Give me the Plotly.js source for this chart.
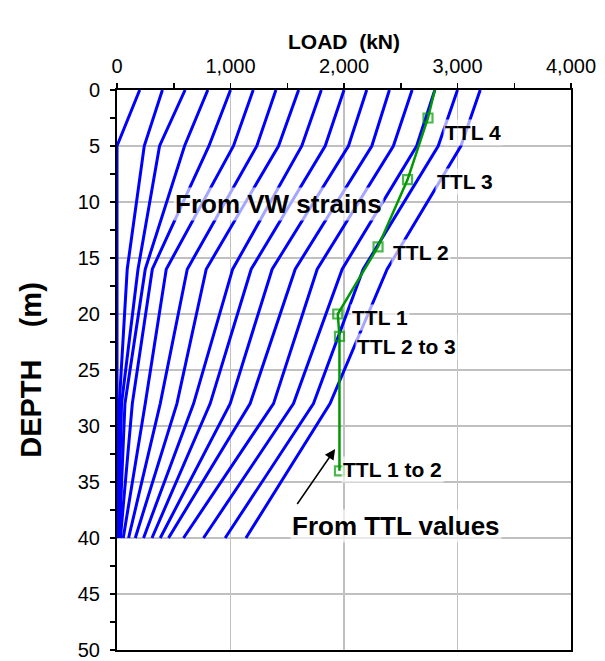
<!DOCTYPE html>
<html>
<head>
<meta charset="utf-8">
<script src="https://cdn.plot.ly/plotly-3.0.1.min.js"></script>
<style>html,body{margin:0;padding:0;background:#fff;}#chart{width:605px;height:661px;}</style>
</head>
<body>
<div id="chart"></div>
<script>
// Depth nodes (m) of the VW-strain load distributions
const vwDepths = [0, 5, 16, 28, 40];
// Load (kN) at each depth node, one array per applied head load
const vw200  = [200, 0, 0, 0, 0];
const vw400  = [400, 240, 90, 20, 5];
const vw600  = [600, 375, 185, 40, 10];
const vw800  = [800, 595, 249, 70, 20];
const vw1000 = [1000, 810, 311, 135, 30];
const vw1200 = [1200, 1026, 434, 249, 55];
const vw1400 = [1400, 1232, 619, 381, 102];
const vw1600 = [1600, 1423, 786, 528, 161];
const vw1800 = [1800, 1628, 1019, 675, 234];
const vw2000 = [2000, 1834, 1182, 821, 308];
const vw2200 = [2200, 2039, 1367, 997, 381];
const vw2400 = [2400, 2245, 1570, 1173, 454];
const vw2600 = [2600, 2435, 1764, 1379, 586];
const vw2800 = [2800, 2640, 1984, 1555, 762];
const vw3000 = [3000, 2830, 2169, 1731, 953];
const vw3200 = [3200, 3030, 2380, 1877, 1136];
const vwSeries = [vw200, vw400, vw600, vw800, vw1000, vw1200, vw1400, vw1600,
                  vw1800, vw2000, vw2200, vw2400, vw2600, vw2800, vw3000, vw3200];

// Telltale-derived distribution
const ttlDepths = [0, 2.5, 8, 14, 20, 22, 34];
const ttlLoads  = [2800, 2740, 2560, 2300, 1945, 1960, 1960];
const ttlNames  = ['', 'TTL 4', 'TTL 3', 'TTL 2', 'TTL 1', 'TTL 2 to 3', 'TTL 1 to 2'];

const BLUE = '#0000FF';
const GREEN = '#009900';

const traces = vwSeries.map(s => ({
  type: 'scatter', mode: 'lines', x: s, y: vwDepths,
  line: {color: BLUE, width: 3}, hoverinfo: 'skip'
}));
traces.push({
  type: 'scatter', mode: 'lines+markers', x: ttlLoads, y: ttlDepths,
  line: {color: GREEN, width: 2.5},
  marker: {symbol: 'square-open', size: ttlNames.map(n => n ? 9 : 0), color: GREEN, line: {color: GREEN, width: 2.2}},
  hoverinfo: 'skip'
});

const lblBg = 'rgba(255,255,255,0.65)';
function ttlLabel(text, x, y) {
  return {text: '<b>' + text + '</b>', x: x, y: y, xref: 'x', yref: 'y', showarrow: false,
          font: {size: 21, color: '#000'}, bgcolor: lblBg, borderpad: 1};
}
const annotations = [
  ttlLabel(ttlNames[1], 3137, 3.8),
  ttlLabel(ttlNames[2], 3067, 8.2),
  ttlLabel(ttlNames[3], 2679, 14.5),
  ttlLabel(ttlNames[4], 2318, 20.3),
  ttlLabel(ttlNames[5], 2547, 22.9),
  ttlLabel(ttlNames[6], 2430, 33.9),
  {text: '<b>From VW strains</b>', x: 1420, y: 10.2, xref: 'x', yref: 'y', showarrow: false,
   font: {size: 26, color: '#000'}, bgcolor: lblBg, borderpad: 1},
  {text: '<b>From TTL values</b>', x: 2460, y: 38.9, xref: 'x', yref: 'y', showarrow: false,
   font: {size: 26, color: '#000'}, bgcolor: lblBg, borderpad: 1},
  {text: '', x: 1922, y: 32.05, ax: 1579, ay: 37.1, xref: 'x', yref: 'y', axref: 'x', ayref: 'y',
   showarrow: true, arrowhead: 2, arrowsize: 1.4, arrowwidth: 1.5, arrowcolor: '#000'}
];

const layout = {
  width: 605, height: 661,
  margin: {l: 117, r: 34, t: 90, b: 11, pad: 0},
  paper_bgcolor: '#fff', plot_bgcolor: '#fff',
  showlegend: false,
  font: {family: 'Liberation Sans, Arial, sans-serif', color: '#000'},
  xaxis: {
    side: 'top', range: [0, 4000], tick0: 0, dtick: 1000, tickformat: ',d',
    showgrid: true, gridcolor: '#c0c0c0', gridwidth: 1.5, zeroline: false,
    ticks: 'outside', ticklen: 5, tickwidth: 1.5, tickcolor: '#000',
    minor: {dtick: 500, ticks: 'outside', ticklen: 5, tickwidth: 1.5, tickcolor: '#000', showgrid: false},
    showline: true, linecolor: '#000', linewidth: 2, mirror: true,
    tickfont: {size: 20, color: '#000'}, ticklabelstandoff: 2,
    title: {text: '<b>LOAD &nbsp;(kN)</b>', font: {size: 21, color: '#000'}, standoff: 0}
  },
  yaxis: {
    range: [50, 0], tick0: 0, dtick: 5,
    showgrid: true, gridcolor: '#c0c0c0', gridwidth: 1.5, zeroline: false,
    ticks: 'outside', ticklen: 5, tickwidth: 1.5, tickcolor: '#000',
    minor: {dtick: 2.5, ticks: 'outside', ticklen: 5, tickwidth: 1.5, tickcolor: '#000', showgrid: false},
    showline: true, linecolor: '#000', linewidth: 2, mirror: true,
    tickfont: {size: 20, color: '#000'}, ticklabelstandoff: 6,
    title: {text: '<b>DEPTH &nbsp; &nbsp;(m)</b>', font: {size: 29, color: '#000'}, standoff: 28}
  },
  annotations: annotations
};

Plotly.newPlot('chart', traces, layout, {staticPlot: true, displayModeBar: false});
</script>
</body>
</html>
